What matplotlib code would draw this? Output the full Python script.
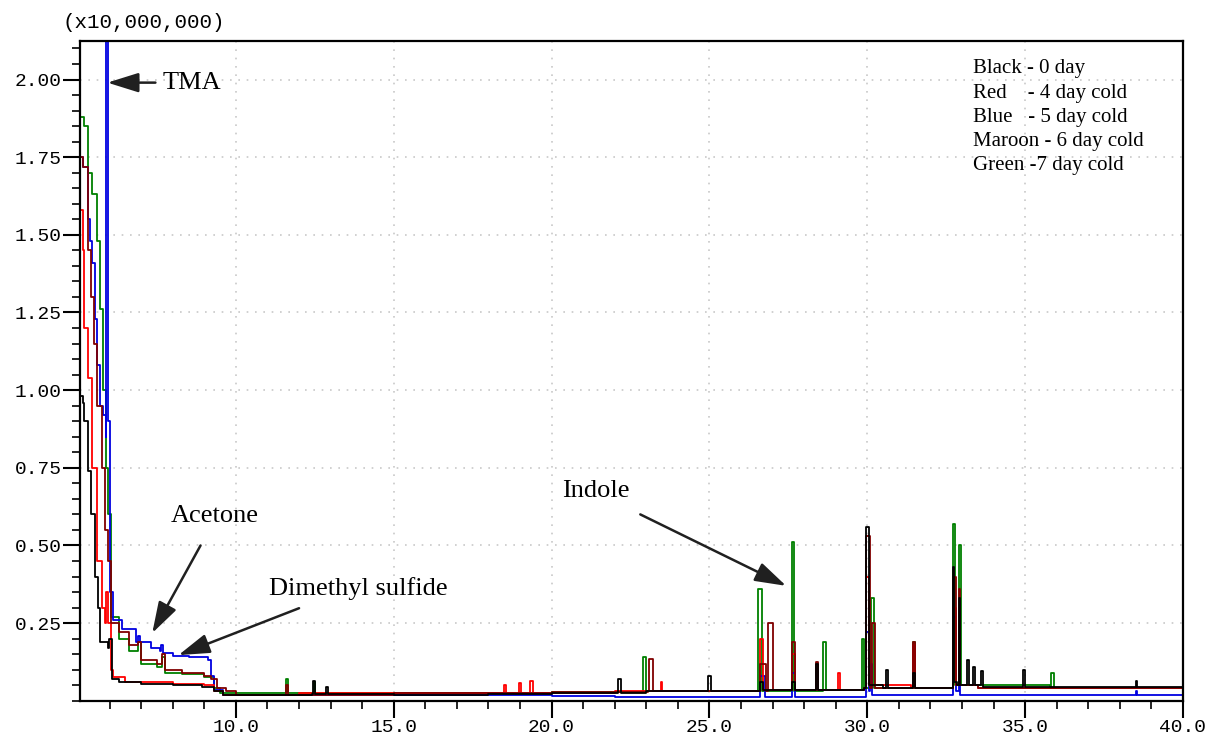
import matplotlib
matplotlib.use("Agg")
import matplotlib.pyplot as plt
from matplotlib.ticker import MultipleLocator, FixedLocator

black_t = [5.06, 5.15, 5.2, 5.31, 5.4, 5.54, 5.62, 5.7, 5.95, 5.98, 6.08, 6.3, 7.0, 8.0, 8.94,
           9.3, 9.6, 11.5, 12.4, 12.44, 12.5, 12.8, 12.86, 12.92, 15.0, 17.0, 18.0, 20.0, 22.05,
           22.11, 22.2, 23.0, 24.9, 24.95, 25.05, 26.0, 26.6, 26.7, 27.6, 27.7, 28.3, 28.38, 28.45,
           29.9, 29.97, 30.05, 30.5, 30.58, 30.65, 31.4, 31.44, 31.5, 32.65, 32.7, 32.76, 32.85,
           32.9, 32.95, 33.1, 33.16, 33.22, 33.3, 33.34, 33.4, 33.55, 33.6, 33.65, 34.9, 34.93,
           35.0, 38.45, 38.5, 38.55, 40.0]
black_v = [0.98, 0.96, 0.90, 0.74, 0.60, 0.40, 0.30, 0.19, 0.17, 0.20, 0.07, 0.06, 0.055, 0.05,
           0.045, 0.03, 0.02, 0.02, 0.022, 0.065, 0.022, 0.022, 0.045, 0.022, 0.02, 0.02, 0.022,
           0.025, 0.025, 0.07, 0.025, 0.03, 0.03, 0.08, 0.03, 0.03, 0.06, 0.035, 0.06, 0.035,
           0.035, 0.12, 0.035, 0.04, 0.56, 0.05, 0.04, 0.10, 0.04, 0.04, 0.09, 0.04, 0.04, 0.43,
           0.06, 0.05, 0.33, 0.05, 0.05, 0.13, 0.05, 0.05, 0.11, 0.05, 0.05, 0.095, 0.045, 0.045,
           0.10, 0.045, 0.045, 0.065, 0.045, 0.045]

red_t = [5.06, 5.15, 5.2, 5.31, 5.45, 5.6, 5.75, 5.85, 5.9, 5.95, 6.05, 6.1, 6.5, 8.0, 9.0, 9.3,
         9.6, 12.0, 15.0, 18.45, 18.49, 18.55, 18.95, 18.97, 19.02, 19.3, 19.32, 19.4, 22.0,
         23.4, 23.45, 23.5, 26.55, 26.6, 26.7, 27.55, 27.6, 27.7, 29.0, 29.08, 29.15, 29.9,
         29.97, 30.05, 31.4, 31.44, 31.5, 32.65, 32.7, 32.8, 32.88, 32.9, 32.95, 33.5, 40.0]
red_v = [1.58, 1.45, 1.20, 1.04, 0.75, 0.45, 0.30, 0.25, 0.35, 0.25, 0.10, 0.075, 0.06, 0.055,
         0.05, 0.03, 0.02, 0.025, 0.025, 0.025, 0.05, 0.025, 0.025, 0.057, 0.025, 0.025, 0.065,
         0.025, 0.03, 0.03, 0.06, 0.03, 0.03, 0.20, 0.035, 0.035, 0.15, 0.035, 0.035, 0.09,
         0.035, 0.04, 0.40, 0.05, 0.04, 0.18, 0.04, 0.04, 0.30, 0.05, 0.05, 0.20, 0.05, 0.04,
         0.04]

blue_t = [5.06, 5.15, 5.3, 5.38, 5.45, 5.54, 5.6, 5.7, 5.8, 5.88, 5.9, 5.93, 5.96, 6.0, 6.11,
          6.4, 6.85, 6.9, 6.95, 7.3, 7.6, 7.63, 7.68, 8.0, 8.5, 9.13, 9.2, 9.3, 9.6, 15.0, 20.0,
          22.0, 26.55, 26.6, 26.75, 27.55, 27.6, 27.7, 29.9, 29.97, 30.05, 30.1, 30.15, 32.65,
          32.7, 32.8, 32.88, 32.9, 32.95, 33.5, 38.45, 38.5, 38.55, 40.0]
blue_v = [1.75, 1.72, 1.55, 1.48, 1.41, 1.23, 1.08, 0.95, 0.92, 0.85, 2.30, 2.30, 0.90, 0.35,
          0.26, 0.23, 0.19, 0.21, 0.19, 0.17, 0.16, 0.18, 0.155, 0.145, 0.14, 0.13, 0.08, 0.035,
          0.02, 0.02, 0.015, 0.012, 0.012, 0.08, 0.012, 0.012, 0.09, 0.012, 0.012, 0.22, 0.03,
          0.12, 0.02, 0.02, 0.27, 0.03, 0.03, 0.12, 0.02, 0.02, 0.02, 0.03, 0.02, 0.02]

maroon_t = [5.06, 5.15, 5.3, 5.4, 5.5, 5.6, 5.75, 5.85, 5.95, 6.05, 6.3, 6.6, 6.9, 7.0, 7.5,
            7.65, 7.75, 8.3, 9.0, 9.2, 9.4, 9.7, 10.0, 11.55, 11.58, 11.65, 15.0, 20.0, 23.05,
            23.1, 23.2, 26.55, 26.6, 26.8, 26.85, 27.0, 27.55, 27.6, 27.7, 28.3, 28.38, 28.45,
            29.9, 29.97, 30.1, 30.15, 30.25, 31.4, 31.44, 31.5, 32.65, 32.7, 32.8, 32.88, 32.9,
            32.95, 33.5, 40.0]
maroon_v = [1.75, 1.72, 1.45, 1.30, 1.15, 0.95, 0.75, 0.55, 0.45, 0.25, 0.22, 0.18, 0.19, 0.13,
            0.12, 0.15, 0.10, 0.09, 0.08, 0.07, 0.04, 0.03, 0.02, 0.02, 0.05, 0.02, 0.025, 0.028,
            0.03, 0.135, 0.03, 0.03, 0.12, 0.03, 0.25, 0.035, 0.035, 0.19, 0.035, 0.035, 0.125,
            0.035, 0.04, 0.53, 0.04, 0.25, 0.04, 0.04, 0.19, 0.04, 0.04, 0.40, 0.05, 0.05, 0.36,
            0.05, 0.04, 0.04]

green_t = [5.06, 5.2, 5.3, 5.44, 5.6, 5.7, 5.8, 5.87, 5.95, 6.05, 6.3, 6.6, 6.9, 7.0, 7.5, 7.65,
           7.75, 8.3, 9.0, 9.3, 9.5, 11.55, 11.58, 11.65, 12.44, 12.47, 12.52, 20.0, 22.88,
           22.91, 23.0, 26.5, 26.55, 26.65, 27.58, 27.62, 27.68, 28.55, 28.6, 28.7, 29.8, 29.84,
           29.9, 30.1, 30.13, 30.2, 31.4, 31.44, 31.5, 32.65, 32.71, 32.78, 32.86, 32.9, 32.96,
           35.78, 35.83, 35.9, 40.0]
green_v = [1.88, 1.85, 1.70, 1.63, 1.48, 1.26, 1.00, 0.75, 0.60, 0.27, 0.20, 0.16, 0.19, 0.12,
           0.11, 0.14, 0.09, 0.085, 0.075, 0.04, 0.025, 0.025, 0.07, 0.025, 0.025, 0.06, 0.025,
           0.028, 0.03, 0.14, 0.03, 0.03, 0.36, 0.03, 0.03, 0.51, 0.03, 0.03, 0.19, 0.035, 0.035,
           0.20, 0.04, 0.04, 0.33, 0.04, 0.04, 0.19, 0.04, 0.04, 0.57, 0.05, 0.05, 0.50, 0.05,
           0.04, 0.09, 0.04, 0.04]

series_colors = ["#008000", "#0000e0", "#ff0000", "#800000", "#000000"]

legend_lines = ["Black - 0 day", "Red    - 4 day cold", "Blue   - 5 day cold",
                "Maroon - 6 day cold", "Green -7 day cold"]

y_ticks = [0.25, 0.50, 0.75, 1.00, 1.25, 1.50, 1.75, 2.00]
x_ticks = [10.0, 15.0, 20.0, 25.0, 30.0, 35.0, 40.0]

mono = "Liberation Mono"
serif = "Liberation Serif"

fig = plt.figure(figsize=(12.06, 7.40), dpi=100)
ax = fig.add_axes([0.0663, 0.053, 0.9146, 0.892])

series = [(green_t, green_v), (blue_t, blue_v), (red_t, red_v), (maroon_t, maroon_v),
          (black_t, black_v)]
for (t, v), col in zip(series, series_colors):
    ax.plot(t, v, color=col, lw=1.3, drawstyle="steps-post")

ax.set_xlim(5.06, 40.0)
ax.set_ylim(0.0, 2.125)

ax.xaxis.set_major_locator(FixedLocator(x_ticks))
ax.xaxis.set_minor_locator(MultipleLocator(1.0))
ax.yaxis.set_major_locator(FixedLocator(y_ticks))
ax.yaxis.set_minor_locator(MultipleLocator(0.05))
ax.set_xticklabels([f"{x:.1f}" for x in x_ticks], fontfamily=mono, fontsize=14)
ax.set_yticklabels([f"{y:.2f}" for y in y_ticks], fontfamily=mono, fontsize=14)
ax.tick_params(which="major", direction="out", length=12, width=1.5, pad=1)
ax.tick_params(which="minor", direction="out", length=6, width=1.2)
for sp in ax.spines.values():
    sp.set_linewidth(1.6)

ax.grid(True, which="major", color="#c8c8c8", linestyle=(0, (1, 4)), lw=1.2)

fig.text(0.052, 0.97, "(x10,000,000)", fontfamily=mono, fontsize=15, va="center")

# Leyenda escrita a mano, como en el original.
ax.text(0.81, 0.972, "\n".join(legend_lines), transform=ax.transAxes, va="top", ha="left",
        fontfamily=serif, fontsize=15, linespacing=1.38)

flecha = dict(arrowstyle="-|>,head_length=0.8,head_width=0.25", color="#202020", lw=1.8,
              mutation_scale=24, shrinkA=0, shrinkB=0)
ax.annotate("", xy=(5.93, 1.99), xytext=(7.45, 1.99), arrowprops=flecha)
ax.text(7.67, 1.99, "TMA", fontfamily=serif, fontsize=19, va="center")
ax.annotate("", xy=(7.35, 0.218), xytext=(8.88, 0.50), arrowprops=flecha)
ax.text(7.92, 0.596, "Acetone", fontfamily=serif, fontsize=19, va="center")
ax.annotate("", xy=(8.18, 0.147), xytext=(12.0, 0.298), arrowprops=flecha)
ax.text(11.04, 0.362, "Dimethyl sulfide", fontfamily=serif, fontsize=19, va="center")
ax.annotate("", xy=(27.43, 0.37), xytext=(22.81, 0.60), arrowprops=flecha)
ax.text(20.33, 0.676, "Indole", fontfamily=serif, fontsize=19, va="center")

fig.savefig("out.png", dpi=100)
